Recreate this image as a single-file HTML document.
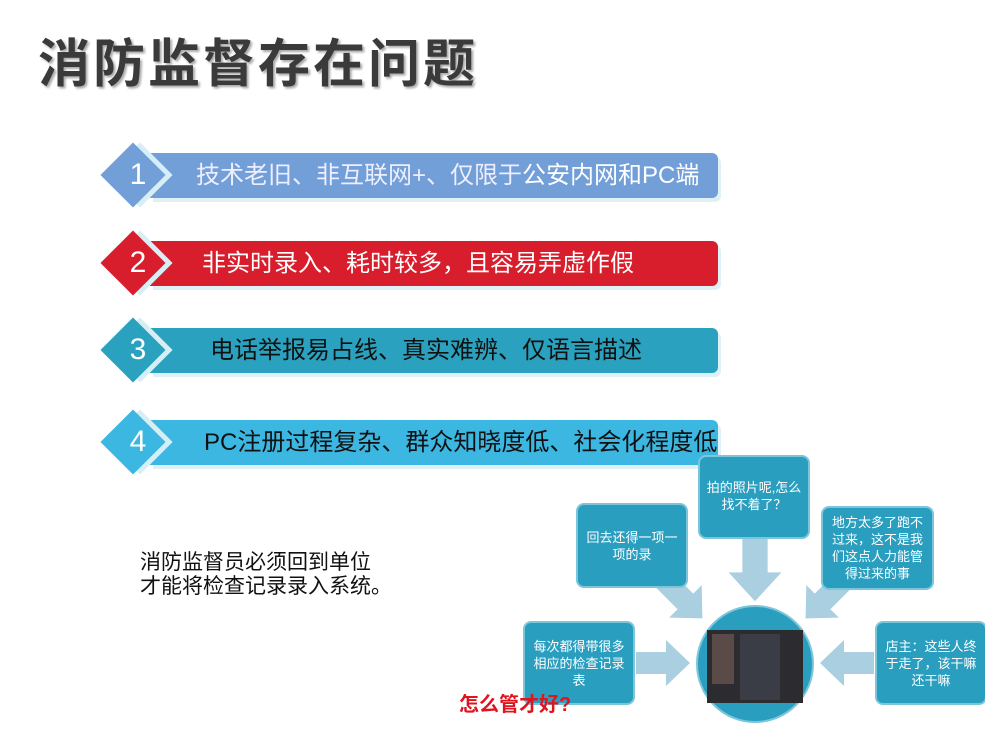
<!DOCTYPE html>
<html><head><meta charset="utf-8"><style>
body{margin:0;width:985px;height:735px;background:#fff;position:relative;overflow:hidden;font-family:"Liberation Sans","Noto Sans CJK SC",sans-serif}
.a{position:absolute}
.bar{position:absolute;left:150px;width:568px;height:45px;border-radius:0 6px 6px 0;box-shadow:3px 4px 0 #dff1f6;font-size:24px;line-height:45px;white-space:nowrap}
.dia{position:absolute;left:110px;width:46px;height:46px;transform:rotate(45deg);box-shadow:5px -5px 0 #d6eef5}
.num{position:absolute;left:118px;width:40px;text-align:center;color:#fff;font-size:30px;line-height:45px}
.box{position:absolute;background:#2a9ebf;border:2px solid #7cc6dc;border-radius:8px;color:#fff;font-size:13px;line-height:17px;text-align:center;display:flex;align-items:center;justify-content:center;box-sizing:border-box;padding:4px}
</style></head><body>
<div class="a" style="left:38px;top:22px;font-size:52px;letter-spacing:3px;font-weight:bold;color:#3a3a3a;text-shadow:2px 2px 2px #aaa">消防监督存在问题</div>

<div class="bar" style="top:153px;background:#729fd8;color:#eef"><span style="padding-left:46px">技术老旧、非互联网+、仅限于<span style="color:#fff">公安内网和PC端</span></span></div>
<div class="dia" style="top:152px;background:#729fd8"></div><div class="num" style="top:152px">1</div>

<div class="bar" style="top:241px;background:#d81e2c;color:#fff"><span style="padding-left:52px">非实时录入、耗时较多，且容易弄虚作假</span></div>
<div class="dia" style="top:240px;background:#d81e2c"></div><div class="num" style="top:240px">2</div>

<div class="bar" style="top:328px;background:#2aa2bf;color:#111"><span style="padding-left:60px">电话举报易占线、真实难辨、仅语言描述</span></div>
<div class="dia" style="top:327px;background:#2aa2bf"></div><div class="num" style="top:327px">3</div>

<div class="bar" style="top:420px;background:#3cb7e2;color:#111"><span style="padding-left:54px">PC注册过程复杂、群众知晓度低、社会化程度低</span></div>
<div class="dia" style="top:419px;background:#3cb7e2"></div><div class="num" style="top:419px">4</div>

<div class="a" style="left:140px;top:551px;font-size:21px;line-height:24px;color:#111">消防监督员必须回到单位<br>才能将检查记录录入系统。</div>

<svg class="a" style="left:0;top:0" width="985" height="735">
<defs><polygon id="ar" points="-11,-28 11,-28 11,2 23,2 0,26 -23,2 -11,2"/></defs>
<g fill="#a9cfe0">
<use href="#ar" transform="translate(755,570) scale(1.15,1.2)"/>
<use href="#ar" transform="translate(684,600) rotate(-45)"/>
<use href="#ar" transform="translate(824,600) rotate(45)"/>
<use href="#ar" transform="translate(664,663) rotate(-90)"/>
<use href="#ar" transform="translate(846,663) rotate(90)"/>
</g>
<circle cx="755" cy="664" r="58" fill="#2a9ebf" stroke="#7cc6dc" stroke-width="2"/>
<rect x="707" y="630" width="96" height="73" fill="#2c2c30"/>
<rect x="712" y="634" width="22" height="50" fill="#5a4a48"/>
<rect x="740" y="634" width="40" height="66" fill="#3a3d45"/>
</svg>

<div class="box" style="left:576px;top:503px;width:112px;height:85px">回去还得一项一项的录</div>
<div class="box" style="left:698px;top:455px;width:112px;height:84px;align-items:flex-start;padding-top:22px">拍的照片呢,怎么找不着了？</div>
<div class="box" style="left:821px;top:506px;width:113px;height:84px">地方太多了跑不过来，这不是我们这点人力能管得过来的事</div>
<div class="box" style="left:523px;top:621px;width:112px;height:84px">每次都得带很多相应的检查记录表</div>
<div class="box" style="left:875px;top:621px;width:112px;height:84px">店主：这些人终于走了，该干嘛还干嘛</div>
<div class="a" style="left:459px;top:688px;font-size:20px;font-weight:bold;color:#e0141e">怎么管才好?</div>
</body></html>
